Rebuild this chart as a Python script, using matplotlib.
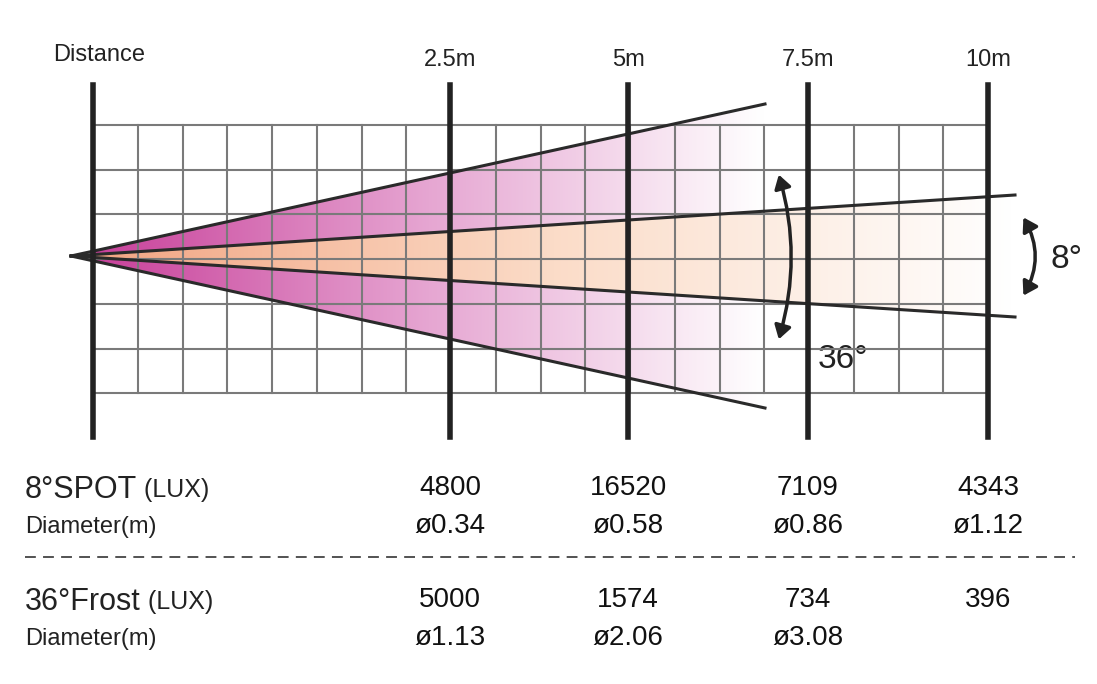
import numpy as np
import matplotlib.pyplot as plt
from matplotlib.patches import Polygon, FancyArrowPatch
from matplotlib.colors import LinearSegmentedColormap

plt.rcParams['font.family'] = ['Liberation Sans', 'DejaVu Sans']

distances = [2.5, 5, 7.5, 10]
dist_labels = ["2.5m", "5m", "7.5m", "10m"]
spot_lux = ["4800", "16520", "7109", "4343"]
spot_diam = ["0.34", "0.58", "0.86", "1.12"]
frost_lux = ["5000", "1574", "734", "396"]
frost_diam = ["1.13", "2.06", "3.08", ""]
spot_angle = 8
frost_angle = 36

W, H = 1097, 684
fig = plt.figure(figsize=(W / 100, H / 100), dpi=100)
ax = fig.add_axes([0, 0, 1, 1])
ax.axis("off")

# diagram is not to scale: pixel position of each distance marker
marker_px = [93, 450, 628, 808, 988]
def X(m):
    return np.interp(m, [0] + distances, marker_px)
yc = 256


def beam(end_x, half, colors, z):
    poly = [(X(0) - 22, yc), (end_x, yc - half), (end_x, yc + half)]
    cmap = LinearSegmentedColormap.from_list("b", colors)
    grad = np.linspace(0, 1, 256).reshape(1, -1)
    im = ax.imshow(grad, cmap=cmap, extent=[X(0), end_x, yc + half, yc - half],
                   aspect="auto", zorder=z)
    p = Polygon(poly, closed=True, facecolor="none", edgecolor="none")
    ax.add_patch(p)
    im.set_clip_path(p)
    for s in (-1, 1):
        ax.plot([poly[0][0], end_x], [yc, yc + s * half], color="#2a2a2a", lw=2.2, zorder=4)


beam(765, 152, ["#c8409a", "#e6a6d2", "#ffffff"], 2)
beam(1015, 61, ["#f2a583", "#fbdcc8", "#ffffff"], 3)

# grid on top of beams
cell = (X(10) - X(0)) / 20
for i in range(21):
    ax.plot([X(0) + i * cell] * 2, [125, 393], color="#7a7a7a", lw=1.5, zorder=3.5)
for j in range(7):
    ax.plot([X(0), X(10)], [125 + j * 44.7] * 2, color="#7a7a7a", lw=1.5, zorder=3.5)

ax.set_xlim(0, W)
ax.set_ylim(H, 0)

# distance markers
ax.plot([X(0)] * 2, [85, 437], color="#222", lw=4, zorder=5)
for d, lab in zip(distances, dist_labels):
    ax.plot([X(d)] * 2, [85, 437], color="#222", lw=4, zorder=5)
    ax.text(X(d), 60, lab, ha="center", va="center", fontsize=17, color="#222")
ax.text(53, 55, "Distance", ha="left", va="center", fontsize=17, color="#222")

# angle arrows
ax.add_patch(FancyArrowPatch((778, 172), (778, 342), connectionstyle="arc3,rad=-0.15",
                             arrowstyle="<|-|>,head_length=8,head_width=5", lw=2.5,
                             color="#222", zorder=6))
ax.add_patch(FancyArrowPatch((1022, 215), (1022, 298), connectionstyle="arc3,rad=-0.3",
                             arrowstyle="<|-|>,head_length=8,head_width=5", lw=2.5,
                             color="#222", zorder=6))
ax.text(818, 360, f"{frost_angle}°", fontsize=24, va="center", color="#222")
ax.text(1050, 260, f"{spot_angle}°", fontsize=24, va="center", color="#222")


def block(y, name, lux, diam):
    t = ax.text(25, y, name, fontsize=22, va="center", color="#222")
    ax.annotate(" (LUX)", xycoords=t, xy=(1, 0.5), va="center", fontsize=18, color="#222")
    ax.text(25, y + 37, "Diameter(m)", fontsize=17, va="center", color="#222")
    for d, l, dm in zip(distances, lux, diam):
        ax.text(X(d), y - 2, l, ha="center", va="center", fontsize=20, color="#111")
        if dm:
            ax.text(X(d), y + 36, "ø" + dm, ha="center", va="center", fontsize=20, color="#111")


block(490, f"{spot_angle}°SPOT", spot_lux, spot_diam)
ax.plot([25, 1075], [557, 557], color="#444", lw=1.3, ls=(0, (6, 4)))
block(602, f"{frost_angle}°Frost", frost_lux, frost_diam)

fig.savefig("out.png", dpi=100)
